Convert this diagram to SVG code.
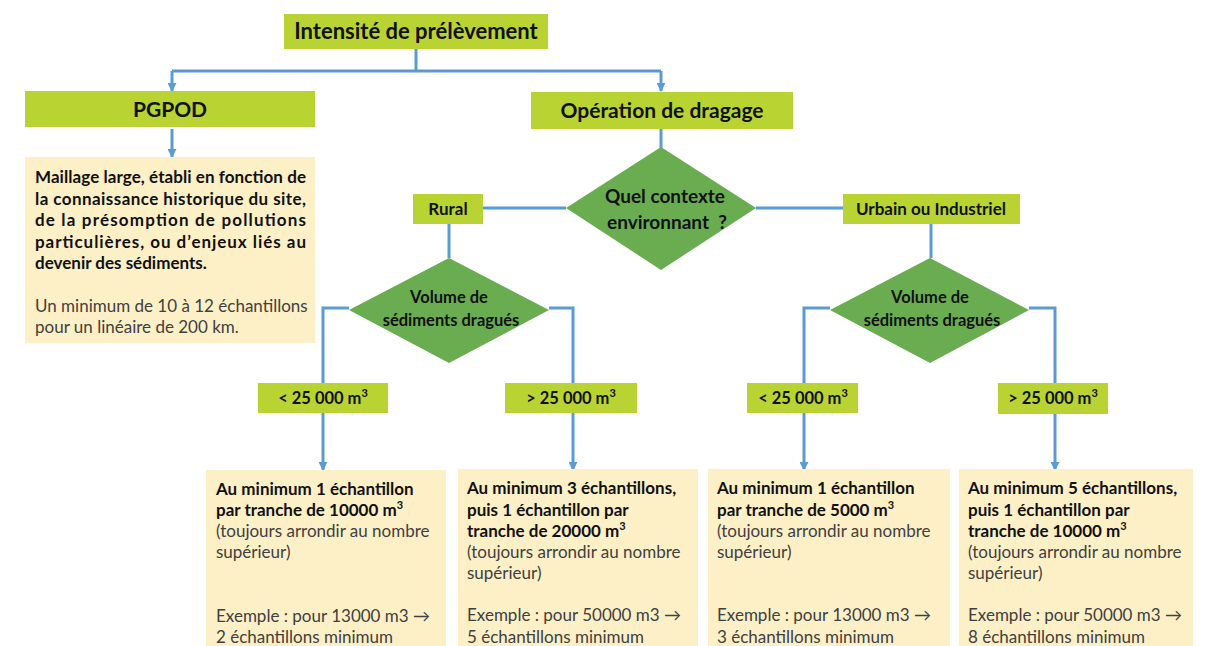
<svg xmlns="http://www.w3.org/2000/svg" width="1210" height="646" viewBox="0 0 1210 646">
  <defs>
    <marker id="arrow" viewBox="0 0 10 10" refX="9" refY="5" markerWidth="9" markerHeight="9" markerUnits="userSpaceOnUse" orient="auto">
      <path d="M0,0 L10,5 L0,10 z" fill="#5b9bd5"/>
    </marker>
    <style>
      .lime { fill: #b9d432; }
      .diamond { fill: #6aad50; }
      .note { fill: #fdefc6; }
      .t { font-family: Lato, "Liberation Sans", sans-serif; fill: #111; }
      .b { font-weight: bold; }
      .n { font-weight: normal; fill: #404040; }
      .mid { text-anchor: middle; }
      .wire { fill: none; stroke: #5b9bd5; stroke-width: 3; }
      .head { marker-end: url(#arrow); }
      .sup { font-size: 11px; }
    </style>
  </defs>
  <rect width="1210" height="646" fill="#ffffff"/>

  <!-- connectors -->
  <g id="connectors">
    <path class="wire" d="M416,49 V71"/>
    <path class="wire head" d="M172,71 H661 M172,71 V91"/>
    <path class="wire head" d="M661,71 V91"/>
    <path class="wire head" d="M172,129 V157"/>
    <path class="wire" d="M661,128 V148"/>
    <path class="wire" d="M566,208 H483"/>
    <path class="wire" d="M756,208 H843"/>
    <path class="wire" d="M449,224 V258"/>
    <path class="wire" d="M931,224 V258"/>
    <path class="wire" d="M349,308 H323 V383"/>
    <path class="wire head" d="M323,413 V470"/>
    <path class="wire" d="M549,308 H573 V383"/>
    <path class="wire head" d="M573,413 V470"/>
    <path class="wire" d="M830,308 H804 V383"/>
    <path class="wire head" d="M804,413 V470"/>
    <path class="wire" d="M1029,308 H1055 V383"/>
    <path class="wire head" d="M1055,413 V470"/>
  </g>

  <!-- top level -->
  <g id="intensite">
    <rect class="lime" x="284" y="14" width="264" height="35"/>
    <text class="t b mid" x="416" y="39" font-size="22">Intensité de prélèvement</text>
  </g>

  <g id="pgpod">
    <rect class="lime" x="25" y="91" width="290" height="36"/>
    <text class="t b mid" x="170" y="117" font-size="21">PGPOD</text>
  </g>

  <g id="operation">
    <rect class="lime" x="531" y="92" width="262" height="37"/>
    <text class="t b mid" x="662" y="118" font-size="21">Opération de dragage</text>
  </g>

  <g id="pgpod-note">
    <rect class="note" x="25" y="157" width="290" height="186"/>
    <g class="t b" font-size="17">
      <text x="35" y="183" textLength="271" lengthAdjust="spacing">Maillage large, établi en fonction de</text>
      <text x="35" y="205" textLength="271" lengthAdjust="spacing">la connaissance historique du site,</text>
      <text x="35" y="226" textLength="271" lengthAdjust="spacing">de la présomption de pollutions</text>
      <text x="35" y="248" textLength="271" lengthAdjust="spacing">particulières, ou d’enjeux liés au</text>
      <text x="35" y="269">devenir des sédiments.</text>
    </g>
    <g class="t n" font-size="17">
      <text x="35" y="312">Un minimum de 10 à 12 échantillons</text>
      <text x="35" y="333">pour un linéaire de 200 km.</text>
    </g>
  </g>

  <!-- context decision -->
  <g id="contexte">
    <polygon class="diamond" points="661,147 756,208 661,270 566,208"/>
    <text class="t b mid" x="665" y="203" font-size="19">Quel contexte</text>
    <text class="t b mid" x="667" y="229" font-size="19">environnant&#160;&#160;?</text>
  </g>

  <g id="rural">
    <rect class="lime" x="413" y="194" width="70" height="30"/>
    <text class="t b mid" x="448" y="215" font-size="17">Rural</text>
  </g>

  <g id="urbain">
    <rect class="lime" x="843" y="194" width="177" height="30"/>
    <text class="t b mid" x="931" y="215" font-size="17">Urbain ou Industriel</text>
  </g>

  <!-- volume decisions -->
  <g id="volume-rural">
    <polygon class="diamond" points="449,258 549,310 449,363 349,310"/>
    <text class="t b mid" x="449" y="303" font-size="16.5">Volume de</text>
    <text class="t b mid" x="451" y="326" font-size="16.5">sédiments dragués</text>
  </g>

  <g id="volume-urbain">
    <polygon class="diamond" points="930,258 1029,310 930,363 830,310"/>
    <text class="t b mid" x="930" y="303" font-size="16.5">Volume de</text>
    <text class="t b mid" x="932" y="326" font-size="16.5">sédiments dragués</text>
  </g>

  <!-- volume thresholds -->
  <g id="rural-petit">
    <rect class="lime" x="258" y="383" width="130" height="30"/>
    <text class="t b mid" x="323" y="404" font-size="16.5">&lt; 25 000 m<tspan class="sup" dy="-7">3</tspan></text>
  </g>
  <g id="rural-grand">
    <rect class="lime" x="505" y="383" width="132" height="30"/>
    <text class="t b mid" x="571" y="404" font-size="16.5">&gt; 25 000 m<tspan class="sup" dy="-7">3</tspan></text>
  </g>
  <g id="urbain-petit">
    <rect class="lime" x="747" y="383" width="111" height="30"/>
    <text class="t b mid" x="803" y="404" font-size="16.5">&lt; 25 000 m<tspan class="sup" dy="-7">3</tspan></text>
  </g>
  <g id="urbain-grand">
    <rect class="lime" x="998" y="383" width="110" height="31"/>
    <text class="t b mid" x="1053" y="404" font-size="16.5">&gt; 25 000 m<tspan class="sup" dy="-7">3</tspan></text>
  </g>

  <!-- sampling rules -->
  <g id="regle-rural-petit">
    <rect class="note" x="206" y="470" width="240" height="176"/>
    <g font-size="17">
      <text class="t b" x="216" y="495">Au minimum 1 échantillon</text>
      <text class="t b" x="216" y="516">par tranche de 10000 m<tspan class="sup" dy="-7">3</tspan></text>
      <text class="t n" x="216" y="537">(toujours arrondir au nombre</text>
      <text class="t n" x="216" y="558">supérieur)</text>
      <text class="t n" x="216" y="622">Exemple : pour 13000 m3 →</text>
      <text class="t n" x="216" y="643">2 échantillons minimum</text>
    </g>
  </g>

  <g id="regle-rural-grand">
    <rect class="note" x="458" y="469" width="240" height="177"/>
    <g font-size="17">
      <text class="t b" x="467" y="494">Au minimum 3 échantillons,</text>
      <text class="t b" x="467" y="516">puis 1 échantillon par</text>
      <text class="t b" x="467" y="537">tranche de 20000 m<tspan class="sup" dy="-7">3</tspan></text>
      <text class="t n" x="467" y="558">(toujours arrondir au nombre</text>
      <text class="t n" x="467" y="579">supérieur)</text>
      <text class="t n" x="467" y="621">Exemple : pour 50000 m3 →</text>
      <text class="t n" x="467" y="643">5 échantillons minimum</text>
    </g>
  </g>

  <g id="regle-urbain-petit">
    <rect class="note" x="708" y="469" width="242" height="177"/>
    <g font-size="17">
      <text class="t b" x="717" y="494">Au minimum 1 échantillon</text>
      <text class="t b" x="717" y="516">par tranche de 5000 m<tspan class="sup" dy="-7">3</tspan></text>
      <text class="t n" x="717" y="537">(toujours arrondir au nombre</text>
      <text class="t n" x="717" y="558">supérieur)</text>
      <text class="t n" x="717" y="621">Exemple : pour 13000 m3 →</text>
      <text class="t n" x="717" y="643">3 échantillons minimum</text>
    </g>
  </g>

  <g id="regle-urbain-grand">
    <rect class="note" x="959" y="469" width="234" height="177"/>
    <g font-size="17">
      <text class="t b" x="968" y="494">Au minimum 5 échantillons,</text>
      <text class="t b" x="968" y="516">puis 1 échantillon par</text>
      <text class="t b" x="968" y="537">tranche de 10000 m<tspan class="sup" dy="-7">3</tspan></text>
      <text class="t n" x="968" y="558">(toujours arrondir au nombre</text>
      <text class="t n" x="968" y="579">supérieur)</text>
      <text class="t n" x="968" y="621">Exemple : pour 50000 m3 →</text>
      <text class="t n" x="968" y="643">8 échantillons minimum</text>
    </g>
  </g>
</svg>
